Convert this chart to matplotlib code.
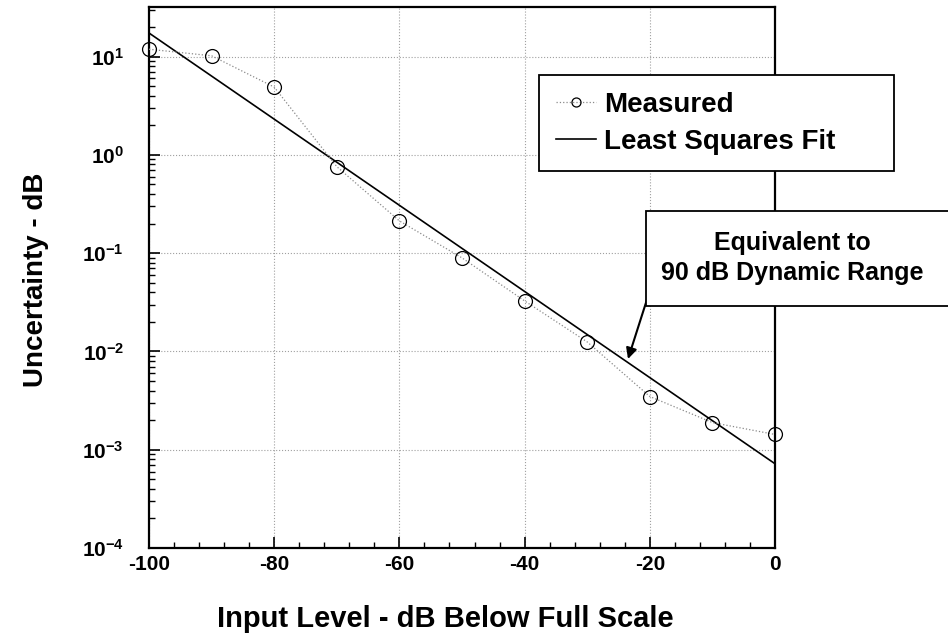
import numpy as np
import matplotlib
matplotlib.use("Agg")
import matplotlib.pyplot as plt
from matplotlib.patches import Rectangle
from matplotlib.ticker import FixedLocator, LogLocator, FuncFormatter, NullFormatter

plt.rcParams['font.family'] = ['Liberation Sans', 'DejaVu Sans']
plt.rcParams['font.weight'] = 'bold'
plt.rcParams['mathtext.fontset'] = 'custom'
plt.rcParams['mathtext.rm'] = 'Liberation Sans:bold'
plt.rcParams['mathtext.bf'] = 'Liberation Sans:bold'
plt.rcParams['axes.unicode_minus'] = False

# ---- data ----
input_level = [-100, -90, -80, -70, -60, -50, -40, -30, -20, -10, 0]
measured = [11.9, 10.2, 4.9, 0.76, 0.213, 0.0896, 0.0327, 0.0125, 0.00348, 0.00189, 0.00143]
fit_x = [-100, 0]
fit_y = [17.4, 0.00072]
x_ticks = [-100, -80, -60, -40, -20, 0]
x_tick_labels = ['-100', '-80', '-60', '-40', '-20', '0']
y_ticks = [1e-4, 1e-3, 1e-2, 1e-1, 1e0, 1e1]

W, H = 948, 638
fig = plt.figure(figsize=(W / 100, H / 100), dpi=100)
ax = fig.add_axes([149 / W, 1 - 548 / H, (775 - 149) / W, (548 - 7) / H])
ax.set_yscale('log')
ax.set_xlim(-100, 0)
ax.set_ylim(1e-4, 32)

# grid
ax.grid(True, which='major', color='#a0a0a0', linestyle=':', linewidth=0.8)

ax.plot(input_level, measured, linestyle=':', color='#8a8a8a', linewidth=0.9,
        marker='o', markersize=10, markerfacecolor='none', markeredgecolor='black',
        markeredgewidth=0.9, clip_on=False, zorder=4, label='Measured')
ax.plot(fit_x, fit_y, color='black', linewidth=1.2, zorder=3, label='Least Squares Fit')

# ticks
ax.xaxis.set_major_locator(FixedLocator(x_ticks))
ax.set_xticklabels(x_tick_labels)
ax.xaxis.set_minor_locator(FixedLocator(np.arange(-100, 1, 4)))
ax.yaxis.set_major_locator(FixedLocator(y_ticks))
ax.yaxis.set_minor_locator(LogLocator(base=10, subs=np.arange(2, 10), numticks=20))
ax.yaxis.set_minor_formatter(NullFormatter())
ax.yaxis.set_major_formatter(FuncFormatter(lambda v, p: r'$\mathbf{10^{%d}}$' % int(round(np.log10(v)))))
ax.tick_params(which='both', direction='in', top=False, right=False, colors='black')
ax.tick_params(which='major', length=8, width=1.2, labelsize=15, pad=5)
ax.tick_params(which='minor', length=4, width=1.0)
ax.tick_params(axis='y', which='major', pad=18)
for lbl in ax.get_xticklabels() + ax.get_yticklabels():
    lbl.set_fontweight('bold')
for sp in ax.spines.values():
    sp.set_linewidth(1.6)
    sp.set_color('black')

# legend (box stretched to the reference width)
leg = ax.legend(loc='upper left', bbox_to_anchor=(539 / W, 1 - 174 / H, 355 / W, 99 / H),
                bbox_transform=fig.transFigure, mode='expand',
                prop={'size': 20, 'weight': 'bold'}, frameon=True,
                fancybox=False, edgecolor='black', framealpha=1,
                handlelength=1.45, handletextpad=0.3, borderpad=0.6,
                labelspacing=0.4, markerscale=0.65, borderaxespad=0)
leg.get_frame().set_linewidth(1.3)
leg.set_zorder(6)

# annotation box (extends past the right edge of the figure)
rect = Rectangle((646 / W, 1 - 306 / H), (980 - 646) / W, (306 - 211) / H,
                 transform=fig.transFigure, facecolor='white', edgecolor='black',
                 linewidth=1.3, zorder=6)
fig.add_artist(rect)
fig.text(792 / W, 1 - 250 / H, 'Equivalent to', ha='center', va='baseline',
         fontsize=18, fontweight='bold', zorder=7)
fig.text(792 / W, 1 - 280 / H, '90 dB Dynamic Range', ha='center', va='baseline',
         fontsize=18, fontweight='bold', zorder=7)
ax.annotate('', xy=(628, H - 359), xytext=(658, H - 265),
            xycoords='figure pixels', textcoords='figure pixels',
            arrowprops=dict(arrowstyle='-|>', color='black', lw=1.5,
                            mutation_scale=16, shrinkA=0, shrinkB=0),
            zorder=8, annotation_clip=False)

# axis labels
fig.text(445 / W, 1 - 627 / H, 'Input Level - dB Below Full Scale', ha='center',
         va='baseline', fontsize=21, fontweight='bold')
fig.text(43 / W, 1 - 280 / H, 'Uncertainty - dB', rotation=90, rotation_mode='anchor',
         ha='center', va='baseline', fontsize=20, fontweight='bold')

fig.savefig('out.png', dpi=100)
